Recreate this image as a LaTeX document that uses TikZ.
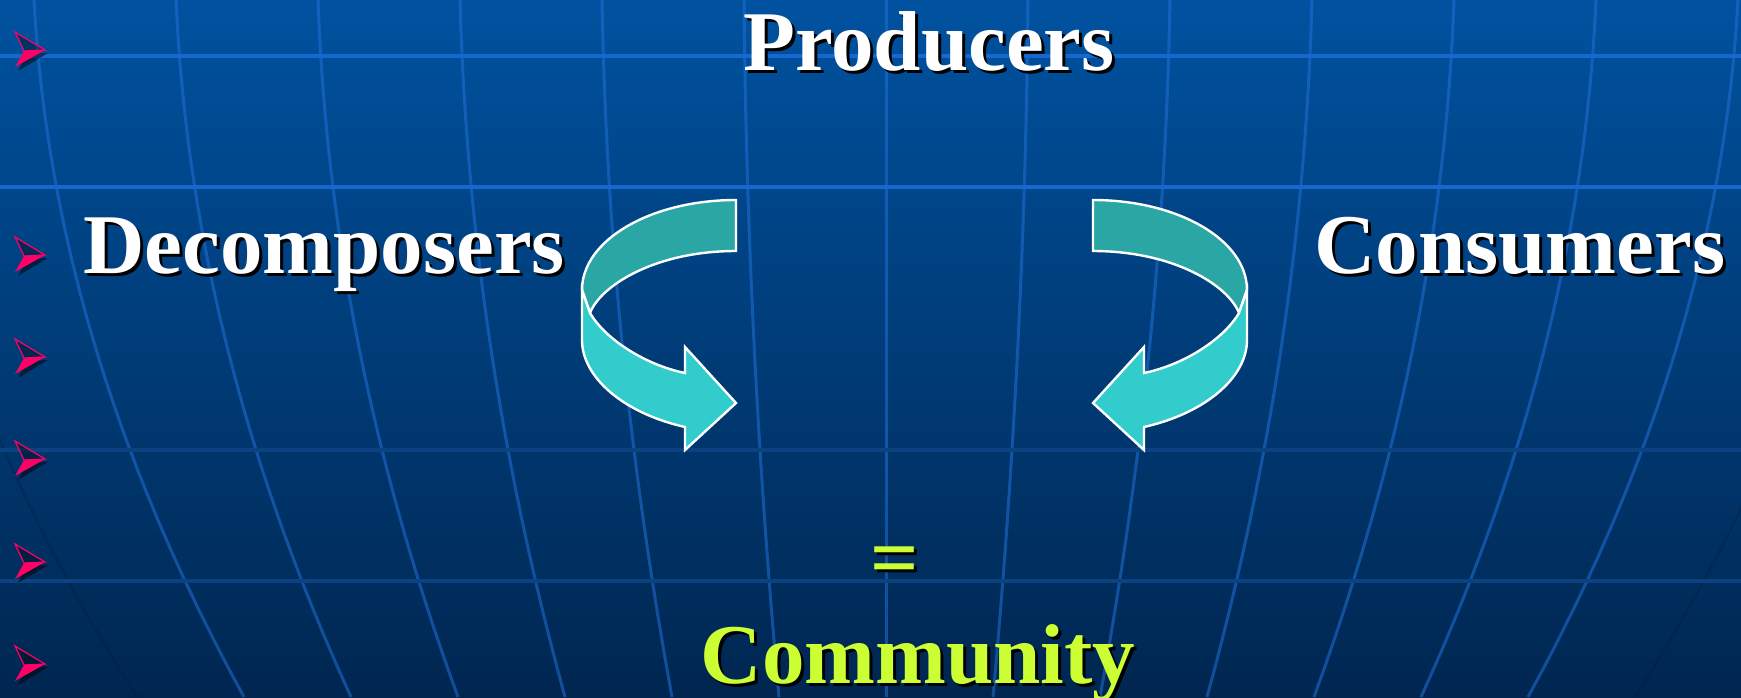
\documentclass[tikz,border=0pt]{standalone}
\usepackage{fontspec}
\setmainfont{Liberation Serif}
\usepackage{tikz}
\usetikzlibrary{positioning}

\definecolor{bgtop}{RGB}{0,82,160}
\definecolor{bgbottom}{RGB}{0,38,80}
\definecolor{gridlight}{RGB}{22,104,208}
\definecolor{griddim}{RGB}{10,66,130}
\definecolor{meridian}{RGB}{32,112,216}
\definecolor{rimdark}{RGB}{0,28,60}
\definecolor{bulletpink}{RGB}{255,0,102}
\definecolor{bandback}{RGB}{42,167,165}
\definecolor{bandfront}{RGB}{51,204,204}
\definecolor{limegreen}{RGB}{204,255,51}

% text with a small black drop shadow
\newcommand{\shadowed}[1]{\rlap{\kern1.5pt\raisebox{-1.5pt}{\color{black}#1}}#1}

% twisted ribbon arrow, tail at x=0, drawn pointing right
\newcommand{\turnarrow}[1]{%
  \begin{scope}[#1]
    \filldraw[band, fill=bandback] (0,200) .. controls (-85,200) and (-154,240) .. (-154,290)
      -- (-146,313) .. controls (-135,285) and (-80,251) .. (0,251) -- cycle;
    \filldraw[band, fill=bandfront] (-154,290) -- (-154,340) .. controls (-154,377) and (-113,413) .. (-51,427)
      -- (-51,450) -- (0,403) -- (-51,347) -- (-51,373)
      .. controls (-90,365) and (-130,340) .. (-146,313) -- cycle;
  \end{scope}}

\begin{document}
\begin{tikzpicture}[x=0.5pt, y=-0.5pt,
    title/.style={font=\fontsize{42.5}{50}\selectfont\bfseries, text=white, inner sep=0pt},
    result/.style={title, text=limegreen},
    hline/.style={line width=2pt},
    meridianline/.style={draw=meridian, draw opacity=0.55, line width=1.5pt},
    band/.style={draw=white, line width=1.2pt, line join=miter},
    bullet/.style={bulletpink, line width=0.6pt, line join=miter}
]
    % Background
    \useasboundingbox (0,0) rectangle (1741,697);
    \shade[top color=bgtop, bottom color=bgbottom] (0,0) rectangle (1741,697);

    % Globe grid
    \begin{scope}
        \clip (0,0) rectangle (1741,697);
        \foreach \k in {-6,...,6}
            \draw[meridianline] plot[domain=0:697, samples=25, variable=\t]
                ({886+\k*(142-0.00888*\t-0.593*(\t/100)^2)}, {\t});
        \foreach \k in {-7,7}
            \draw[rimdark, draw opacity=0.3, line width=1.2pt] plot[domain=0:697, samples=25, variable=\t]
                ({886+\k*(142-0.00888*\t-0.593*(\t/100)^2)}, {\t});
    \end{scope}
    \draw[hline, gridlight] (0,56) -- (1741,56);
    \draw[hline, gridlight] (0,187) -- (1741,187);
    \draw[hline, griddim] (0,450) -- (1741,450);
    \draw[hline, griddim] (0,581) -- (1741,581);

    % Bullets
    \foreach \by in {50,255,357,459,562,664} {
        \fill[black, opacity=0.5] (18,\by+21) -- (48,\by+3) -- (27,\by+4) -- cycle;
        \fill[bulletpink] (15,\by+17) -- (45,\by) -- (24,\by+1) -- cycle;
        \filldraw[bullet, fill=black, fill opacity=0.35] (15,\by-18) -- (45,\by) -- (24,\by+1) -- cycle;
    }

    % Labels
    \node[title, anchor=base] (producers) at (929,70) {\shadowed{Producers}};
    \node[title, anchor=base west] (decomposers) at (83,273) {\shadowed{Decomposers}};
    \node[title, anchor=base west] (consumers) at (1314,273) {\shadowed{Consumers}};
    \node[result, anchor=base] (equals) at (895,586) {\shadowed{=}};
    \node[result, anchor=base] (community) at (918,683) {\shadowed{Community}};

    % Turning arrows
    \turnarrow{shift={(736,0)}}
    \turnarrow{shift={(1093,0)}, xscale=-1}
\end{tikzpicture}
\end{document}
